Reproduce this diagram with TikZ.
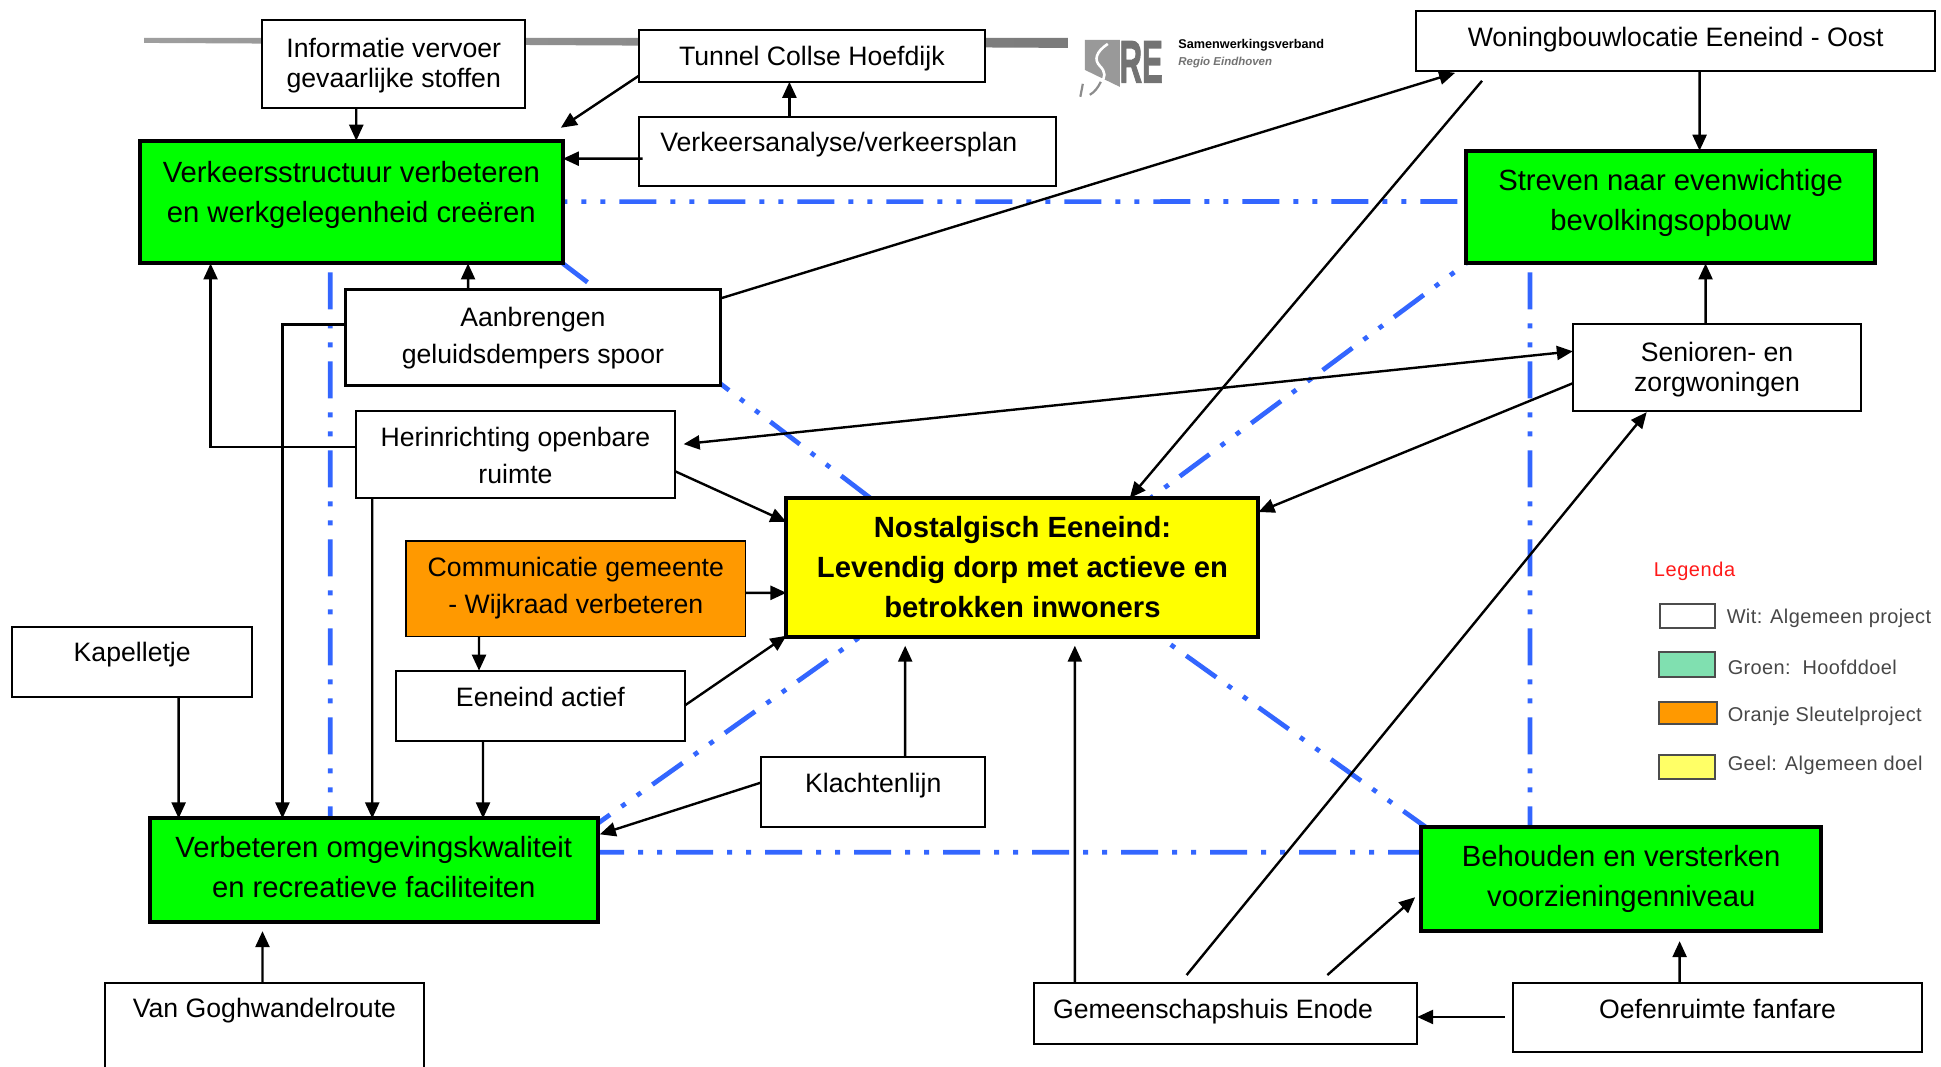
\documentclass[tikz,border=0pt]{standalone}
\usepackage{fontspec}
\setmainfont{Liberation Sans}
\usetikzlibrary{arrows.meta}
\pgfdeclarelayer{bg}
\pgfsetlayers{bg,main}
\definecolor{linkblue}{HTML}{3366FF}
\definecolor{goalgreen}{HTML}{00FF00}
\definecolor{goalyellow}{HTML}{FFFF00}
\definecolor{keyorange}{HTML}{FF9900}
\definecolor{legendgreen}{HTML}{80E0B0}
\definecolor{legendyellow}{HTML}{FFFF66}
\newcommand\lift[3][0]{\vbox{\hbox{\begin{tabular}{@{}c@{}}#3\end{tabular}\hskip#1pt}\vskip#2pt}}
\tikzset{
  x=1pt,y=-1pt,
  plain/.style={draw=black,line width=2pt,fill=white,inner sep=0pt,outer sep=0pt,
    font=\fontsize{26.7}{30}\selectfont},
  wide/.style={plain,font=\fontsize{26.7}{37}\selectfont},
  goal/.style={draw=black,line width=4pt,fill=goalgreen,inner sep=0pt,outer sep=0pt,
    font=\fontsize{29.3}{40}\selectfont},
  centre/.style={goal,fill=goalyellow,font=\bfseries\fontsize{29.3}{40.5}\selectfont},
  keyproj/.style={wide,fill=keyorange,line width=1.5pt},
  arrow/.style={draw=black,line width=2.4pt,-{Triangle[length=16pt,width=14pt]}},
  twoway/.style={draw=black,line width=2.4pt,{Triangle[length=16pt,width=14pt]}-{Triangle[length=16pt,width=14pt]}},
  link/.style={draw=linkblue,line width=4.7pt,dash pattern=on 37pt off 14pt on 5pt off 14pt on 5pt off 14pt},
  legbox/.style={draw=black!70,line width=1.6pt,inner sep=0pt,outer sep=0pt},
  legtext/.style={anchor=west,inner sep=0pt,text=black!72,font=\fontsize{20}{24}\selectfont\addfontfeature{LetterSpace=2}},
}
\begin{document}
\begin{tikzpicture}[scale=0.998,transform shape]
\useasboundingbox (0,0) rectangle (1944.9,1069.14);
% boxes
\node[plain,minimum width=263pt,minimum height=88pt] (info) at (394.5,64) {\lift{-5}{Informatie vervoer\\gevaarlijke stoffen}};
\node[plain,minimum width=347pt,minimum height=52pt] (tunnel) at (813.5,56) {\lift{-7}{Tunnel Collse Hoefdijk}};
\node[plain,minimum width=418pt,minimum height=69pt] (analyse) at (849,151.5) {\lift[17]{11}{Verkeersanalyse/verkeersplan}};
\node[plain,minimum width=520pt,minimum height=60pt] (woning) at (1679,41) {\lift{1}{Woningbouwlocatie Eeneind - Oost}};
\node[goal,minimum width=424pt,minimum height=123pt] (verk) at (352,202.5) {\lift{16}{Verkeersstructuur verbeteren\\en werkgelegenheid creëren}};
\node[goal,minimum width=410pt,minimum height=113pt] (streven) at (1674,207.5) {\lift{9}{Streven naar evenwichtige\\bevolkingsopbouw}};
\node[wide,line width=3pt,minimum width=376pt,minimum height=96pt] (aan) at (534,338) {\lift{0}{Aanbrengen\\geluidsdempers spoor}};
\node[plain,minimum width=289pt,minimum height=87pt] (senior) at (1720.5,368.5) {\lift{-6}{Senioren- en\\zorgwoningen}};
\node[wide,minimum width=319pt,minimum height=87pt] (herin) at (516.5,455.5) {\lift{-6}{Herinrichting openbare\\ruimte}};
\node[centre,minimum width=473pt,minimum height=139pt] (nost) at (1024.5,568.5) {\lift{-4}{Nostalgisch Eeneind:\\Levendig dorp met actieve en\\betrokken inwoners}};
\node[keyproj,minimum width=340pt,minimum height=96pt] (comm) at (577,590) {\lift{2}{Communicatie gemeente\\- Wijkraad verbeteren}};
\node[plain,minimum width=241pt,minimum height=70pt] (kap) at (132.5,663) {\lift{12}{Kapelletje}};
\node[plain,minimum width=289pt,minimum height=70pt] (actief) at (541.5,707) {\lift{11}{Eeneind actief}};
\node[plain,minimum width=224pt,minimum height=70pt] (klacht) at (875,794) {\lift{11}{Klachtenlijn}};
\node[goal,minimum width=449pt,minimum height=104pt] (verbet) at (374.5,872) {\lift{2}{Verbeteren omgevingskwaliteit\\en recreatieve faciliteiten}};
\node[goal,minimum width=401pt,minimum height=104pt] (behoud) at (1624.5,881) {\lift{1}{Behouden en versterken\\voorzieningenniveau}};
\node[plain,minimum width=320pt,minimum height=90pt] (gogh) at (265,1030) {\lift{32}{Van Goghwandelroute}};
\node[plain,minimum width=384pt,minimum height=61pt] (gem) at (1228,1015.5) {\lift[25]{2}{Gemeenschapshuis Enode}};
\node[plain,minimum width=410pt,minimum height=69pt] (oef) at (1721,1019.5) {\lift{10}{Oefenruimte fanfare}};
% links behind the boxes
\begin{pgfonlayer}{bg}
\fill[white] (0,0) rectangle (1944.9,1069.14);
\shade[left color=black!38,right color=black!52] (144.3,38) -- (1070,38) -- (1070,48) -- (144.3,43) -- cycle;
\draw[link,dash phase=32.4pt] ([yshift=-61pt]verk.north east) -- ([yshift=-51pt]streven.north west);
\draw[link] ([shift={(191pt,-9pt)}]verk.south west) -- ([xshift=181pt]verbet.north west);
\draw[link] ([shift={(64pt,-9pt)}]streven.south west) -- ([xshift=109pt]behoud.north west);
\draw[link,dash phase=10.7pt] ([yshift=-34pt]verbet.north east) -- ([yshift=-25pt]behoud.north west);
\draw[link,dash phase=6pt] (verk.south east) -- ([xshift=84pt]nost.north west);
\draw[link,dash phase=36.3pt] (streven.south west) -- ([xshift=365pt]nost.north west);
\draw[link,dash phase=22pt] ([yshift=-5pt]verbet.north east) -- ([xshift=74pt]nost.south west);
\draw[link,dash phase=9pt] ([xshift=5pt]behoud.north west) -- ([xshift=374pt]nost.south west);
\end{pgfonlayer}
% connectors
\draw[arrow] ([xshift=94pt]info.south west) -- ([xshift=217pt]verk.north west);
\draw[arrow] ([yshift=-46pt]tunnel.north west) -- ([shift={(-2pt,13pt)}]verk.north east);
\draw[arrow] ([xshift=151pt]analyse.north west) -- ([xshift=151pt]tunnel.south west);
\draw[arrow] ([shift={(4pt,-42pt)}]analyse.north west) -- ([yshift=-18pt]verk.north east);
\draw[arrow] ([xshift=284pt]woning.south west) -- ([xshift=234pt]streven.north west);
\draw[arrow] ([yshift=-9pt]aan.north east) -- ([shift={(39pt,-2pt)}]woning.south west);
\draw[arrow] ([shift={(66pt,-10pt)}]woning.south west) -- ([xshift=344pt]nost.north west);
\draw[arrow] ([xshift=133pt]senior.north west) -- ([xshift=240pt]streven.south west);
\draw[twoway] ([yshift=-27pt]senior.north west) -- ([shift={(9pt,-33pt)}]herin.north east);
\draw[arrow] ([yshift=-59pt]senior.north west) -- ([yshift=-14pt]nost.north east);
\draw[arrow] ([yshift=-60pt]herin.north east) -- ([yshift=-24pt]nost.north west);
\draw[arrow] ([yshift=-36pt]herin.north west) -| ([xshift=71pt]verk.south west);
\draw[arrow] ([xshift=123pt]aan.north west) -- ([xshift=329pt]verk.south west);
\draw[arrow] ([yshift=-35pt]aan.north west) -| ([xshift=133pt]verbet.north west);
\draw[arrow] ([xshift=16pt]herin.south west) -- ([xshift=223pt]verbet.north west);
\draw[arrow] ([yshift=-52pt]comm.north east) -- ([yshift=-95pt]nost.north west);
\draw[arrow] ([xshift=73pt]comm.south west) -- ([xshift=83pt]actief.north west);
\draw[arrow] (actief.east) -- ([yshift=1pt]nost.south west);
\draw[arrow] ([xshift=87pt]actief.south west) -- ([xshift=334pt]verbet.north west);
\draw[arrow] ([xshift=167pt]kap.south west) -- ([xshift=29pt]verbet.north west);
\draw[arrow] ([yshift=-25pt]klacht.north west) -- ([shift={(2pt,-16pt)}]verbet.north east);
\draw[arrow] ([xshift=144pt]klacht.north west) -- ([shift={(119pt,-9pt)}]nost.south west);
\draw[arrow] ([xshift=158pt]gogh.north west) -- ([shift={(113pt,-9pt)}]verbet.south west);
\draw[arrow] ([xshift=41pt]gem.north west) -- ([shift={(289pt,-9pt)}]nost.south west);
\draw[arrow] ([shift={(153pt,8pt)}]gem.north west) -- ([shift={(74pt,-1pt)}]senior.south west);
\draw[arrow] ([shift={(294pt,8pt)}]gem.north west) -- ([shift={(-6pt,34pt)}]behoud.south west);
\draw[arrow] ([shift={(-8pt,-34pt)}]oef.north west) -- ([yshift=-34pt]gem.north east);
\draw[arrow] ([xshift=167pt]oef.north west) -- ([shift={(259pt,-10pt)}]behoud.south west);
% logo
\fill[black!40] (1087,40) -- (1122,40) -- (1122,87) -- (1087,70) -- cycle;
\node[inner sep=0pt,text=black!55,xscale=0.52,font=\bfseries\fontsize{60}{60}\selectfont\addfontfeature{FakeBold=2}] (logoRE) at (1143.5,62) {RE};
\draw[white,line width=2.6pt] (1110,44) .. controls (1098,52) and (1096,60) .. (1102,66) .. controls (1108,72) and (1108,78) .. (1103,82);
\draw[black!45,line width=2.2pt] (1103,82) .. controls (1100,88) and (1097,92) .. (1092,95);
\draw[black!45,line width=2.2pt] (1085,84) -- (1082.5,97);
\node[anchor=west,inner sep=0pt,text=black,font=\bfseries\fontsize{12.7}{14}\selectfont] (logo1) at (1180.5,45) {Samenwerkingsverband};
\node[anchor=west,inner sep=0pt,text=black!55,font=\bfseries\itshape\fontsize{11.5}{14}\selectfont] (logo2) at (1180.5,63) {Regio Eindhoven};
% legend
\node[anchor=west,inner sep=0pt,text=red!90,font=\fontsize{20}{24}\selectfont\addfontfeature{LetterSpace=3}] (legtitle) at (1657,572) {Legenda};
\node[legbox,fill=white,minimum width=55pt,minimum height=24pt] (lw) at (1691,617.5) {};
\node[legbox,fill=legendgreen,minimum width=56pt,minimum height=25pt] (lg) at (1690.5,666) {};
\node[legbox,fill=keyorange,minimum width=58pt,minimum height=22pt] (lo) at (1691.5,714.5) {};
\node[legbox,fill=legendyellow,minimum width=56pt,minimum height=24pt] (ly) at (1690.5,768.5) {};
\node[legtext] (ltw) at (1730,619.5) {Wit: Algemeen project};
\node[legtext] (ltg) at (1731,668.5) {Groen:\ \ Hoofddoel};
\node[legtext] (lto) at (1731,718) {Oranje Sleutelproject};
\node[legtext] (lty) at (1731,767) {Geel: Algemeen doel};
\end{tikzpicture}
\end{document}
